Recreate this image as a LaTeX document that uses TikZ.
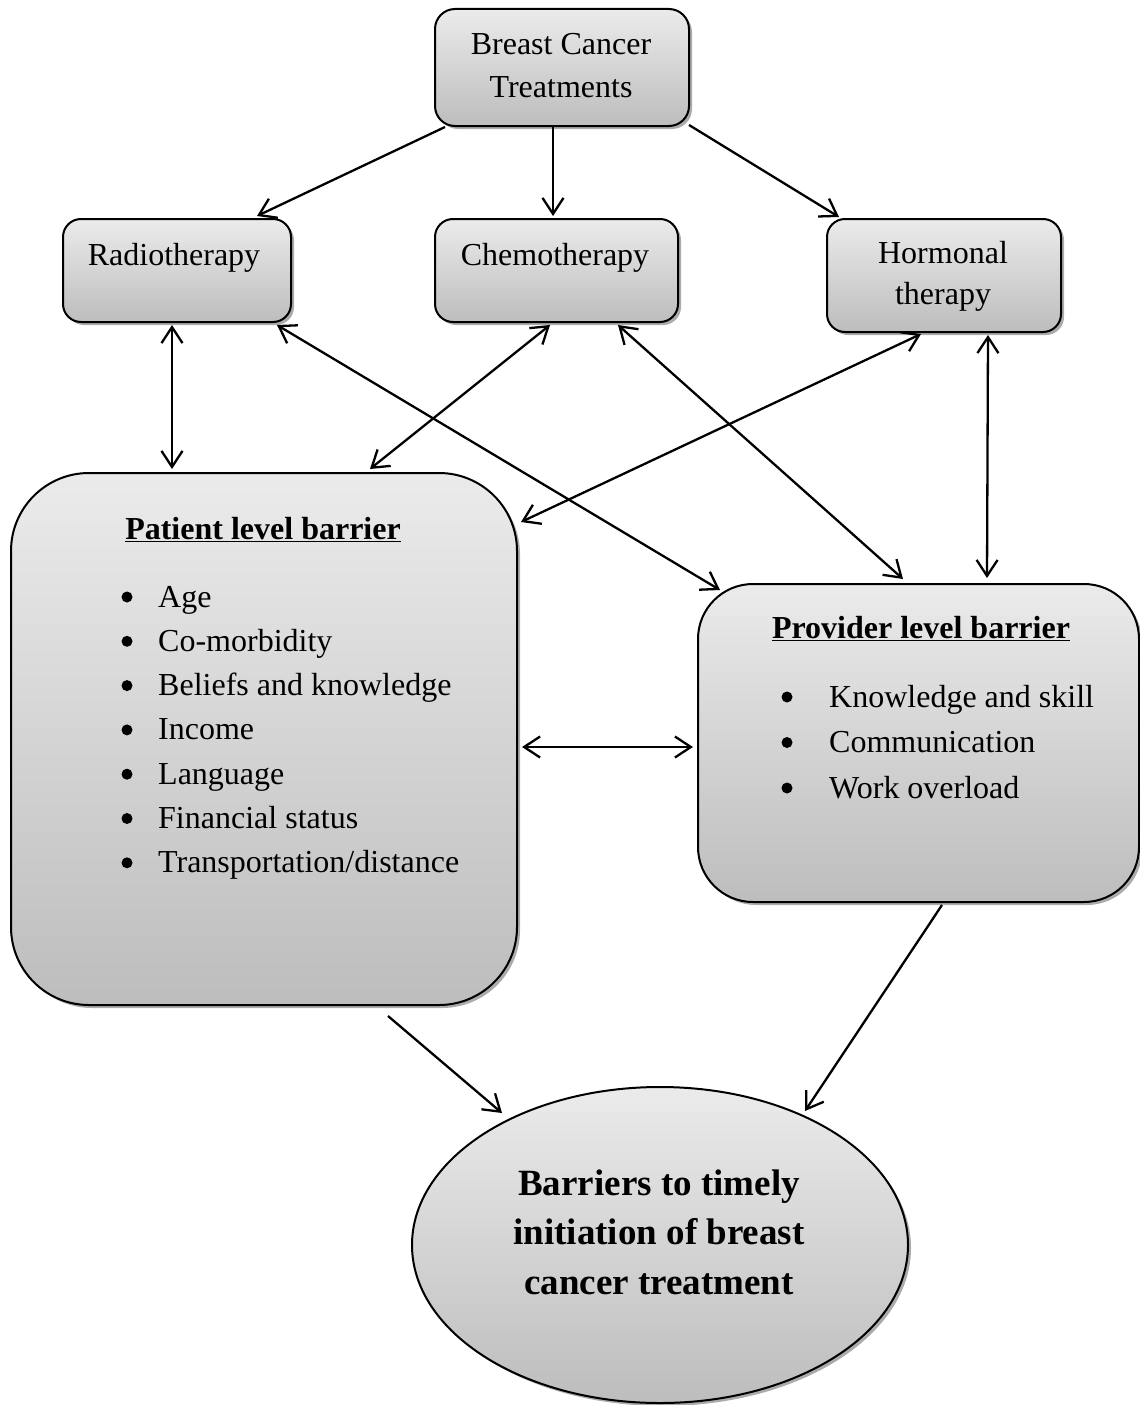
\documentclass[tikz,border=0pt]{standalone}
\usepackage{fontspec}
\setmainfont{Liberation Serif}
\usetikzlibrary{shapes.geometric,shadows,calc,arrows.meta}
\definecolor{shadetop}{HTML}{EBEBEB}
\definecolor{shadebot}{HTML}{BDBDBD}
\tikzset{
  box/.style={draw=black, line width=2pt, top color=shadetop, bottom color=shadebot,
    drop shadow={shadow xshift=3pt, shadow yshift=-3pt, fill=black!55, opacity=0.6},
    anchor=north west, inner sep=0pt},
  txt/.style={anchor=base, inner sep=0pt, font=\fontsize{32}{40}\selectfont},
  item/.style={anchor=base west, inner sep=0pt, font=\fontsize{32}{40}\selectfont},
  bul/.style={circle, fill=black, inner sep=0pt, minimum size=11pt},
  hdr/.style={anchor=base, inner sep=0pt, font=\fontsize{32}{40}\selectfont\bfseries},
  big/.style={anchor=base, inner sep=0pt, font=\fontsize{37}{46}\selectfont\bfseries},
  tip/.tip={Straight Barb[length=16pt,width=21pt]},
  one/.style={line width=2.3pt, -tip},
  two/.style={line width=2.3pt, tip-tip},
}
\begin{document}
\begin{tikzpicture}[x=1pt,y=-1pt]
\useasboundingbox (0,0) rectangle (1140,1405);

% boxes
\node[box, rounded corners=20pt, minimum width=254pt, minimum height=117pt] (top) at (434,8) {};
\node[box, rounded corners=18pt, minimum width=228pt, minimum height=103pt] (radio) at (62,218) {};
\node[box, rounded corners=18pt, minimum width=243pt, minimum height=103pt] (chemo) at (434,218) {};
\node[box, rounded corners=18pt, minimum width=234pt, minimum height=113pt] (hormone) at (826,218) {};
\node[box, rounded corners=78pt, minimum width=506pt, minimum height=532pt] (patient) at (10,472) {};
\node[box, rounded corners=55pt, minimum width=441pt, minimum height=318pt] (provider) at (697,583) {};
\node[draw=black, line width=2pt, ellipse, top color=shadetop, bottom color=shadebot,
  drop shadow={shadow xshift=3pt, shadow yshift=-3pt, fill=black!55, opacity=0.6},
  minimum width=496pt, minimum height=316pt, inner sep=0pt] (goal) at (660,1245) {};

% texts
\node[txt] (tTopA) at (561,55) {Breast Cancer};
\node[txt] (tTopB) at (561,97) {Treatments};
\node[txt] (tRadio) at (174,265) {Radiotherapy};
\node[txt] (tChemo) at (555,265) {Chemotherapy};
\node[txt] (tHormA) at (943,263) {Hormonal};
\node[txt] (tHormB) at (943,304) {therapy};

\node[hdr] (hPat) at (263,539) {\underline{Patient level barrier}};
\foreach \t [count=\i from 0] in {Age,Co-morbidity,Beliefs and knowledge,Income,Language,Financial status,Transportation/distance}{
  \node[bul] (pb\i) at (127,{597+44.3*\i}) {};
  \node[item] (pi\i) at (158,{607+44.3*\i}) {\t};
}

\node[hdr] (hPro) at (921,638) {\underline{Provider level barrier}};
\foreach \t [count=\i from 0] in {Knowledge and skill,Communication,Work overload}{
  \node[bul] (vb\i) at (787,{697+45.5*\i}) {};
  \node[item] (vi\i) at (829,{707+45.5*\i}) {\t};
}

\node[big] (gA) at (659,1195) {Barriers to timely};
\node[big] (gB) at (659,1244) {initiation of breast};
\node[big] (gC) at (659,1294) {cancer treatment};

% connectors
\draw[one] ($(top.south west)+(11,0)$) -- ($(radio.north west)+(195,-2)$);
\draw[one] ($(top.south west)+(119,0)$) -- ($(chemo.north west)+(119,-2)$);
\draw[one] ($(top.south east)+(-1,-2)$) -- ($(hormone.north west)+(13,-1)$);

\draw[two] ($(radio.south west)+(110,2)$) -- ($(patient.north west)+(162,-3)$);
\draw[two] ($(chemo.south west)+(116,2)$) -- ($(patient.north west)+(360,-3)$);
\draw[two] ($(radio.south west)+(215,2)$) -- ($(provider.north west)+(23,7)$);
\draw[two] ($(chemo.south west)+(184,2)$) -- ($(provider.north west)+(206,-4)$);
\draw[two] ($(hormone.south west)+(95,1)$) -- ($(patient.north east)+(3,50)$);
\draw[two] ($(hormone.south west)+(162,2)$) -- ($(provider.north west)+(290,-5)$);
\draw[two] ($(patient.north east)+(4,275)$) -- ($(provider.north west)+(-4,164)$);

\draw[one] ($(patient.south west)+(378,10)$) -- ($(goal.center)+(-158,-132)$);
\draw[one] ($(provider.south west)+(245,2)$) -- ($(goal.center)+(145,-134)$);
\end{tikzpicture}
\end{document}
